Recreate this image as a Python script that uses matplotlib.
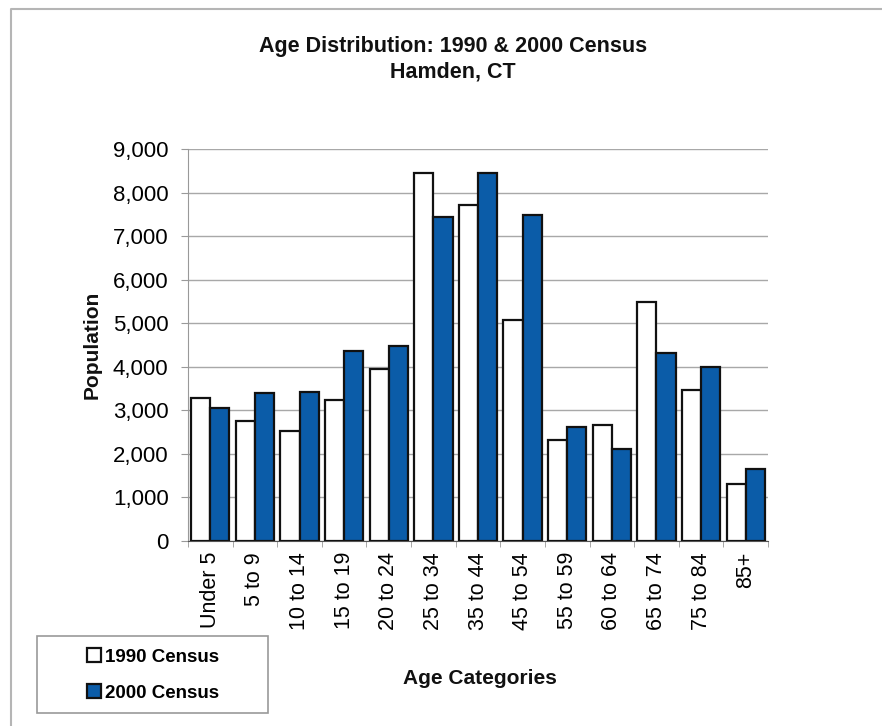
import matplotlib
matplotlib.use("Agg")
import matplotlib.pyplot as plt
from matplotlib.lines import Line2D
from matplotlib.patches import Rectangle
import numpy as np

categories = ["Under 5", "5 to 9", "10 to 14", "15 to 19", "20 to 24", "25 to 34",
              "35 to 44", "45 to 54", "55 to 59", "60 to 64", "65 to 74", "75 to 84", "85+"]
census_1990 = [3275, 2755, 2525, 3240, 3960, 8460, 7715, 5075, 2320, 2665, 5480, 3465, 1300]
census_2000 = [3045, 3390, 3430, 4370, 4470, 7450, 8440, 7485, 2610, 2105, 4320, 4000, 1645]
yticks = [0, 1000, 2000, 3000, 4000, 5000, 6000, 7000, 8000, 9000]
ytick_labels = ["0", "1,000", "2,000", "3,000", "4,000", "5,000", "6,000", "7,000", "8,000", "9,000"]

plt.rcParams['font.family'] = ['Liberation Sans', 'DejaVu Sans']

W, H = 882, 726
fig = plt.figure(figsize=(W / 100, H / 100), dpi=100)

# outer frame (top and left edges)
fig.add_artist(Line2D([11 / W, 11 / W, 1.0], [0.0, 1 - 9 / H, 1 - 9 / H],
                      transform=fig.transFigure, color='#b5b5b5', linewidth=1.5))

ax = fig.add_axes([188 / W, 1 - 541 / H, 580 / W, 392 / H])
x = np.arange(len(categories))
bw = 0.43
blue = '#0b5ca8'
ax.bar(x - bw / 2, census_1990, bw, color='white', edgecolor='#111111', linewidth=1.6,
       label='1990 Census', zorder=3)
ax.bar(x + bw / 2, census_2000, bw, color=blue, edgecolor='#111111', linewidth=1.6,
       label='2000 Census', zorder=3)

ax.set_xlim(-0.5, len(categories) - 0.5)
ax.set_ylim(0, 9000)
ax.set_yticks(yticks)
ax.set_yticklabels(ytick_labels, fontsize=16)
ax.yaxis.grid(True, color='#a8a8a8', linewidth=1.0, zorder=0)
ax.set_axisbelow(True)
ax.tick_params(axis='y', length=5, color='#999999', pad=9)

ax.set_xticks(x)
ax.set_xticklabels(categories, rotation=90, fontsize=15.5, va='top', ha='center')
ax.tick_params(axis='x', which='major', length=0, pad=8)
ax.set_xticks(np.arange(-0.5, len(categories)), minor=True)
ax.tick_params(axis='x', which='minor', length=4, color='#999999')

for s in ['top', 'right']:
    ax.spines[s].set_visible(False)
ax.spines['left'].set_color('#999999')
ax.spines['bottom'].set_color('#555555')

ax.set_ylabel('Population', fontsize=15, fontweight='bold', color='#111111')
ax.yaxis.set_label_coords((102 - 188) / 580, 0.5)

fig.text(453 / W, 1 - 59 / H, 'Age Distribution: 1990 & 2000 Census\nHamden, CT',
         ha='center', va='center', fontsize=15.5, fontweight='bold', linespacing=1.3,
         color='#111111')
fig.text(480 / W, 1 - 678 / H, 'Age Categories', ha='center', va='center',
         fontsize=15, fontweight='bold', color='#111111')

# legend box
fig.patches.append(Rectangle((37 / W, 1 - 713 / H), (268 - 37) / W, (713 - 636) / H,
                             transform=fig.transFigure, fill=False,
                             edgecolor='#999999', linewidth=1.2))
handles, labels = ax.get_legend_handles_labels()
leg = fig.legend(handles, labels, loc='center', bbox_to_anchor=(153 / W, 1 - 675 / H),
                 frameon=False, prop={'weight': 'bold', 'size': 13.5},
                 handlelength=0.75, handleheight=0.75, handletextpad=0.2,
                 labelspacing=1.0)

fig.savefig('out.png', dpi=100, facecolor='white')
